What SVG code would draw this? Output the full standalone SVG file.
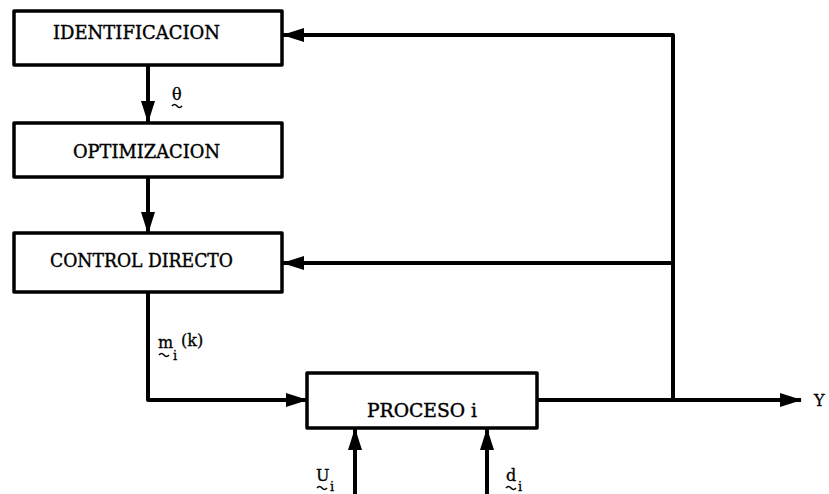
<svg xmlns="http://www.w3.org/2000/svg" width="829" height="494" viewBox="0 0 829 494">
<defs>
<style>
.box{fill:#fff;stroke:#000;stroke-width:3.5;stroke-linejoin:round}
.ln{fill:none;stroke:#000;stroke-width:4;stroke-linejoin:round}
.t{font-family:"DejaVu Serif","Liberation Serif",serif;font-size:18px;fill:#000;stroke:#000;stroke-width:0.4}
.s{font-family:"DejaVu Serif","Liberation Serif",serif;font-size:16px;fill:#000;stroke:#000;stroke-width:0.3}
.sub{font-family:"DejaVu Serif","Liberation Serif",serif;font-size:13px;fill:#000;stroke:#000;stroke-width:0.3}
.tl{fill:none;stroke:#000;stroke-width:1.5}
</style>
<marker id="ah" markerUnits="userSpaceOnUse" markerWidth="22" markerHeight="14" viewBox="0 0 22 14" refX="21" refY="7" orient="auto">
<path d="M0,0 L22,7 L0,14 Z" fill="#000"/>
</marker>
</defs>
<g id="connectors">
<line class="ln" x1="148" y1="65" x2="148" y2="122" marker-end="url(#ah)"/>
<line class="ln" x1="148" y1="177" x2="148" y2="233" marker-end="url(#ah)"/>
<path class="ln" d="M148,293 V400 H307" marker-end="url(#ah)"/>
<line class="ln" x1="537" y1="400" x2="801" y2="400" marker-end="url(#ah)"/>
<path class="ln" d="M673,400 V35 H283" marker-end="url(#ah)"/>
<line class="ln" x1="673" y1="263" x2="283" y2="263" marker-end="url(#ah)"/>
<line class="ln" x1="355" y1="494" x2="355" y2="429" marker-end="url(#ah)"/>
<line class="ln" x1="487" y1="494" x2="487" y2="429" marker-end="url(#ah)"/>
</g>
<g id="identificacion">
<rect class="box" x="14" y="11" width="268" height="54"/>
<text class="t" x="53" y="39" textLength="167" lengthAdjust="spacingAndGlyphs">IDENTIFICACION</text>
</g>
<g id="optimizacion">
<rect class="box" x="14" y="123" width="268" height="54"/>
<text class="t" x="73" y="158" textLength="147" lengthAdjust="spacingAndGlyphs">OPTIMIZACION</text>
</g>
<g id="control">
<rect class="box" x="14" y="233" width="268" height="59"/>
<text class="t" x="50" y="267" textLength="183" lengthAdjust="spacingAndGlyphs">CONTROL DIRECTO</text>
</g>
<g id="proceso">
<rect class="box" x="307" y="373" width="230" height="55"/>
<text class="t" x="367" y="417" textLength="110" lengthAdjust="spacingAndGlyphs">PROCESO i</text>
</g>
<g id="labels">
<text class="s" x="172" y="100">θ</text>
<path class="tl" d="M172,106 q2.5,-3 5,0 t5,0"/>
<text class="s" x="158" y="348">m</text>
<path class="tl" d="M159,355 q2.5,-3 5,0 t5,0"/>
<text class="sub" x="173" y="360">i</text>
<text class="s" x="181" y="346">(k)</text>
<text class="s" x="316" y="481">U</text>
<path class="tl" d="M317,488 q2.5,-3 5,0 t5,0"/>
<text class="sub" x="330" y="491">i</text>
<text class="s" x="506" y="481">d</text>
<path class="tl" d="M506,488 q2.5,-3 5,0 t5,0"/>
<text class="sub" x="518" y="491">i</text>
<text class="s" x="814" y="406">Y</text>
</g>
</svg>
